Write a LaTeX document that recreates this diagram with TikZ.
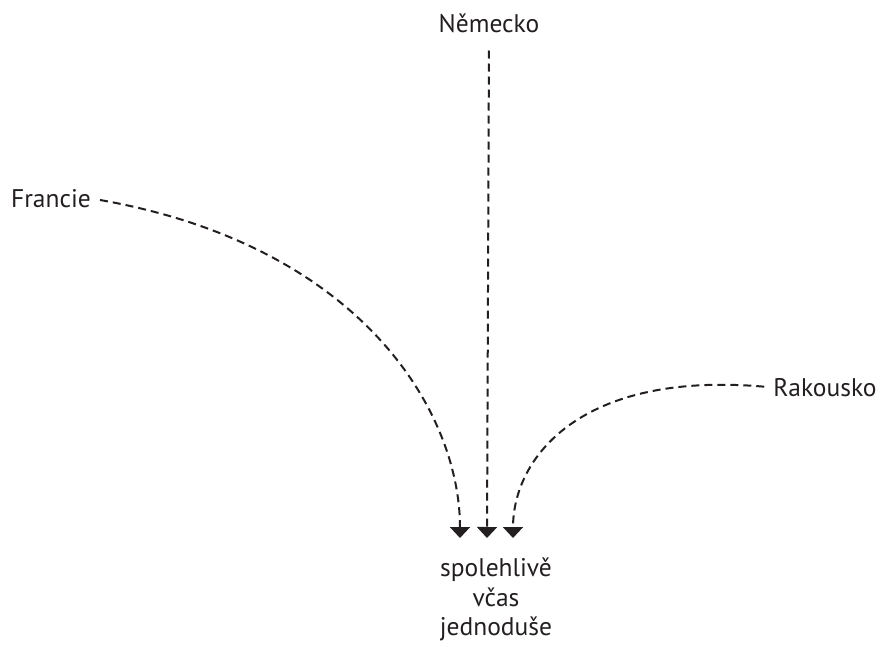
\documentclass[tikz,border=0pt]{standalone}
\usepackage{fontspec}
\setmainfont{PT Sans}
\usetikzlibrary{arrows.meta,positioning,calc}

\definecolor{ink}{HTML}{231F20}

\tikzset{
  land/.style={font=\fontsize{25.5}{29.5}\selectfont, text=ink, inner sep=4pt},
  flow/.style={ink, line width=2pt, dash pattern=on 8pt off 5pt, shorten <=5pt,
    -{Triangle[width=20pt,length=11pt]}}
}

\begin{document}
\begin{tikzpicture}[x=1pt,y=1pt]
\useasboundingbox (0,0) rectangle (882,646);

\node[land, anchor=base] (nemecko) at (489,613) {Německo};
\node[land, anchor=base] (francie) at (51,438) {Francie};
\node[land, anchor=base] (rakousko) at (825,250) {Rakousko};

\node[land, align=center, anchor=north, inner sep=0pt] (cil) at (496,88) {spolehlivě\\včas\\jednoduše};

\draw[flow, shorten <=13pt] (nemecko.south) -- ([xshift=-9pt,yshift=20pt]cil.north);
\draw[flow] (francie.east) .. controls +(-10:272) and +(90:125) .. ([xshift=-36pt,yshift=20pt]cil.north);
\draw[flow] (rakousko.west) .. controls +(175:190) and +(90:80) .. ([xshift=17pt,yshift=20pt]cil.north);

\end{tikzpicture}
\end{document}
